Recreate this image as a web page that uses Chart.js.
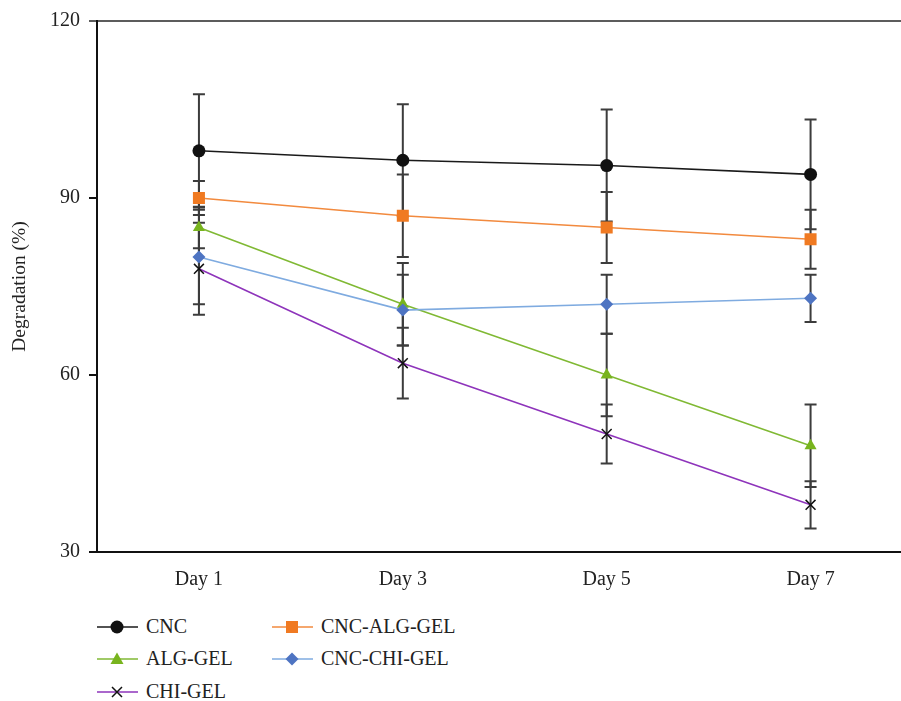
<!DOCTYPE html>
<html lang="en">
<head>
    <meta charset="UTF-8">
    <title>Degradation</title>
    <script src="https://cdn.jsdelivr.net/npm/chart.js"></script>
    <style>
        body { margin: 0; overflow: hidden; background: #fff; }
        #wrap { position: relative; width: 901px; height: 701px; overflow: hidden; }
        #chart { position: absolute; left: 0; top: 0; }
        .legend-item { position: absolute; display: flex; align-items: center; font: 20px "Liberation Serif", serif; color: #222; }
        .legend-item svg { margin-right: 8px; }
    </style>
</head>
<body>
<div id="wrap">
    <canvas id="chart" width="921" height="600"></canvas>
    <div id="legend"></div>
</div>
<script>
    const days = ['Day 1', 'Day 3', 'Day 5', 'Day 7'];
    const yTicks = [30, 60, 90, 120];

    const cnc = [98, 96.4, 95.5, 94];
    const cncErr = [9.6, 9.5, 9.5, 9.3];
    const cncAlgGel = [90, 87, 85, 83];
    const cncAlgGelErr = [2.9, 7, 6, 5];
    const algGel = [85, 72, 60, 48];
    const algGelErr = [3.5, 7, 7, 7];
    const cncChiGel = [80, 71, 72, 73];
    const cncChiGelErr = [8, 6, 5, 4];
    const chiGel = [78, 62, 50, 38];
    const chiGelErr = [7.8, 6, 5, 4];

    const serif = '"Liberation Serif", serif';

    const series = [
        { label: 'CNC', data: cnc, errors: cncErr, line: '#1a1a1a', fill: '#111', style: 'circle', r: 6.5 },
        { label: 'CNC-ALG-GEL', data: cncAlgGel, errors: cncAlgGelErr, line: '#f28a3e', fill: '#f07a22', style: 'rect', r: 8.5 },
        { label: 'ALG-GEL', data: algGel, errors: algGelErr, line: '#80b934', fill: '#78b41e', style: 'triangle', r: 7 },
        { label: 'CNC-CHI-GEL', data: cncChiGel, errors: cncChiGelErr, line: '#7fabe0', fill: '#4e74c2', style: 'rectRot', r: 6.5 },
        { label: 'CHI-GEL', data: chiGel, errors: chiGelErr, line: '#8e34bb', fill: '#111', style: 'crossRot', r: 7 }
    ];

    // error bars drawn under the markers
    const errorBars = {
        id: 'errorBars',
        beforeDatasetsDraw(chart) {
            const { ctx, scales: { x, y } } = chart;
            ctx.save();
            ctx.strokeStyle = '#3c3c3c';
            ctx.lineWidth = 2;
            chart.data.datasets.forEach(ds => {
                ds.data.forEach((v, j) => {
                    const px = x.getPixelForValue(j);
                    const top = y.getPixelForValue(v + ds.errors[j]);
                    const bot = y.getPixelForValue(v - ds.errors[j]);
                    ctx.beginPath();
                    ctx.moveTo(px, top); ctx.lineTo(px, bot);
                    ctx.moveTo(px - 6, top); ctx.lineTo(px + 6, top);
                    ctx.moveTo(px - 6, bot); ctx.lineTo(px + 6, bot);
                    ctx.stroke();
                });
            });
            ctx.restore();
        }
    };

    new Chart(document.getElementById('chart'), {
        type: 'line',
        data: {
            labels: days,
            datasets: series.map((s, i) => ({
                label: s.label,
                data: s.data,
                errors: s.errors,
                borderColor: s.line,
                borderWidth: 1.6,
                pointStyle: s.style,
                pointRadius: s.r,
                pointHoverRadius: s.r,
                pointBackgroundColor: s.fill,
                pointBorderColor: s.fill,
                pointBorderWidth: s.style === 'crossRot' ? 1.5 : 0,
                tension: 0,
                order: series.length - i
            }))
        },
        options: {
            responsive: false,
            animation: false,
            layout: { padding: { top: 21, right: 3, left: 0, bottom: 0 } },
            plugins: { legend: { display: false }, tooltip: { enabled: false } },
            scales: {
                x: {
                    offset: true,
                    grid: { display: false, drawTicks: false },
                    border: { display: true, color: '#111', width: 2 },
                    ticks: { color: '#222', font: { family: serif, size: 20 }, padding: 16 },
                    afterFit: scale => { scale.height = 48; }
                },
                y: {
                    min: 30,
                    max: 120,
                    afterBuildTicks: scale => { scale.ticks = yTicks.map(v => ({ value: v })); },
                    grid: {
                        color: c => c.tick && c.tick.value === 120 ? '#5c5c5c' : 'rgba(0,0,0,0)',
                        tickColor: c => c.tick && c.tick.value === 120 ? '#5c5c5c' : '#111',
                        lineWidth: 2,
                        tickLength: 8
                    },
                    border: { display: true, color: '#111', width: 2 },
                    ticks: { color: '#222', font: { family: serif, size: 20 }, padding: 9 },
                    title: { display: true, text: 'Degradation (%)', color: '#222', font: { family: serif, size: 19.5 }, padding: { top: 8, bottom: 0 } },
                    afterFit: scale => { scale.width = 97; }
                }
            }
        },
        plugins: [errorBars]
    });

    // legend in two columns below the plot
    const legendPos = [[97, 626], [272, 626], [97, 658], [272, 658], [97, 691]];
    const legend = document.getElementById('legend');
    series.forEach((s, i) => {
        let mark = '';
        if (s.style === 'circle') mark = `<circle cx="20" cy="10" r="6.5" fill="${s.fill}"/>`;
        if (s.style === 'rect') mark = `<rect x="14" y="4" width="12" height="12" fill="${s.fill}"/>`;
        if (s.style === 'triangle') mark = `<polygon points="20,3.5 26.5,15 13.5,15" fill="${s.fill}"/>`;
        if (s.style === 'rectRot') mark = `<polygon points="20,3.5 26.5,10 20,16.5 13.5,10" fill="${s.fill}"/>`;
        if (s.style === 'crossRot') mark = `<path d="M15,5 L25,15 M25,5 L15,15" stroke="${s.fill}" stroke-width="1.5"/>`;
        const el = document.createElement('div');
        el.className = 'legend-item';
        el.style.left = legendPos[i][0] + 'px';
        el.style.top = (legendPos[i][1] - 11) + 'px';
        el.innerHTML = `<svg width="41" height="20"><line x1="0" y1="10" x2="41" y2="10" stroke="${s.line}" stroke-width="1.6"/>${mark}</svg><span>${s.label}</span>`;
        legend.appendChild(el);
    });
</script>
</body>
</html>
